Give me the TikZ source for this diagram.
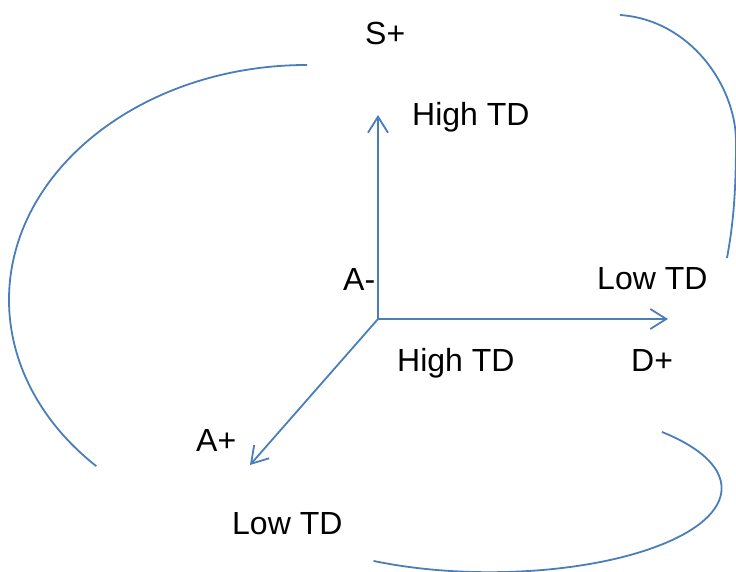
\documentclass[tikz,border=0pt]{standalone}
\usepackage{fontspec}
\setmainfont{Liberation Sans}
\usetikzlibrary{arrows.meta}
\definecolor{lineblue}{RGB}{74,126,187}
\begin{document}
\begin{tikzpicture}[x=1pt,y=1pt,
  conn/.style={draw=lineblue,line width=1.8pt},
  axis/.style={conn,-{Straight Barb[length=16pt,width=20pt,line width=1.8pt]}},
  lbl/.style={anchor=base west,inner sep=0pt,font=\fontsize{32}{35}\selectfont}]
\useasboundingbox (0,0) rectangle (736,572);
\coordinate (O) at (378,253);
\coordinate (Up) at (378,457);
\coordinate (Rt) at (668,253);
\coordinate (Dg) at (250,107);
\draw[axis] (O) -- (Up);
\draw[axis] (O) -- (Rt);
\draw[axis] (O) -- (Dg);
\node[lbl] (splus) at (365,527) {S+};
\node[lbl] (hightop) at (412,446) {High TD};
\node[lbl] (aminus) at (343,281) {A-};
\node[lbl] (lowright) at (597,282) {Low TD};
\node[lbl] (highmid) at (397,200) {High TD};
\node[lbl] (dplus) at (631,200) {D+};
\node[lbl] (aplus) at (196,120) {A+};
\node[lbl] (lowbot) at (232,37) {Low TD};
\coordinate (L1) at (307,507);
\draw[conn] (L1) arc[start angle=90,end angle=225,x radius=298,y radius=235];
\coordinate (R1) at (620,557);
\coordinate (R2) at (736,432);
\coordinate (R3) at (727,314);
\draw[conn] (R1) .. controls (690,552) and (735,487) .. (R2) .. controls (736,377) and (733,347) .. (R3);
\coordinate (B1) at (662,140);
\draw[conn] (B1) arc[start angle=42,end angle=-120,x radius=232,y radius=84];
\end{tikzpicture}
\end{document}
